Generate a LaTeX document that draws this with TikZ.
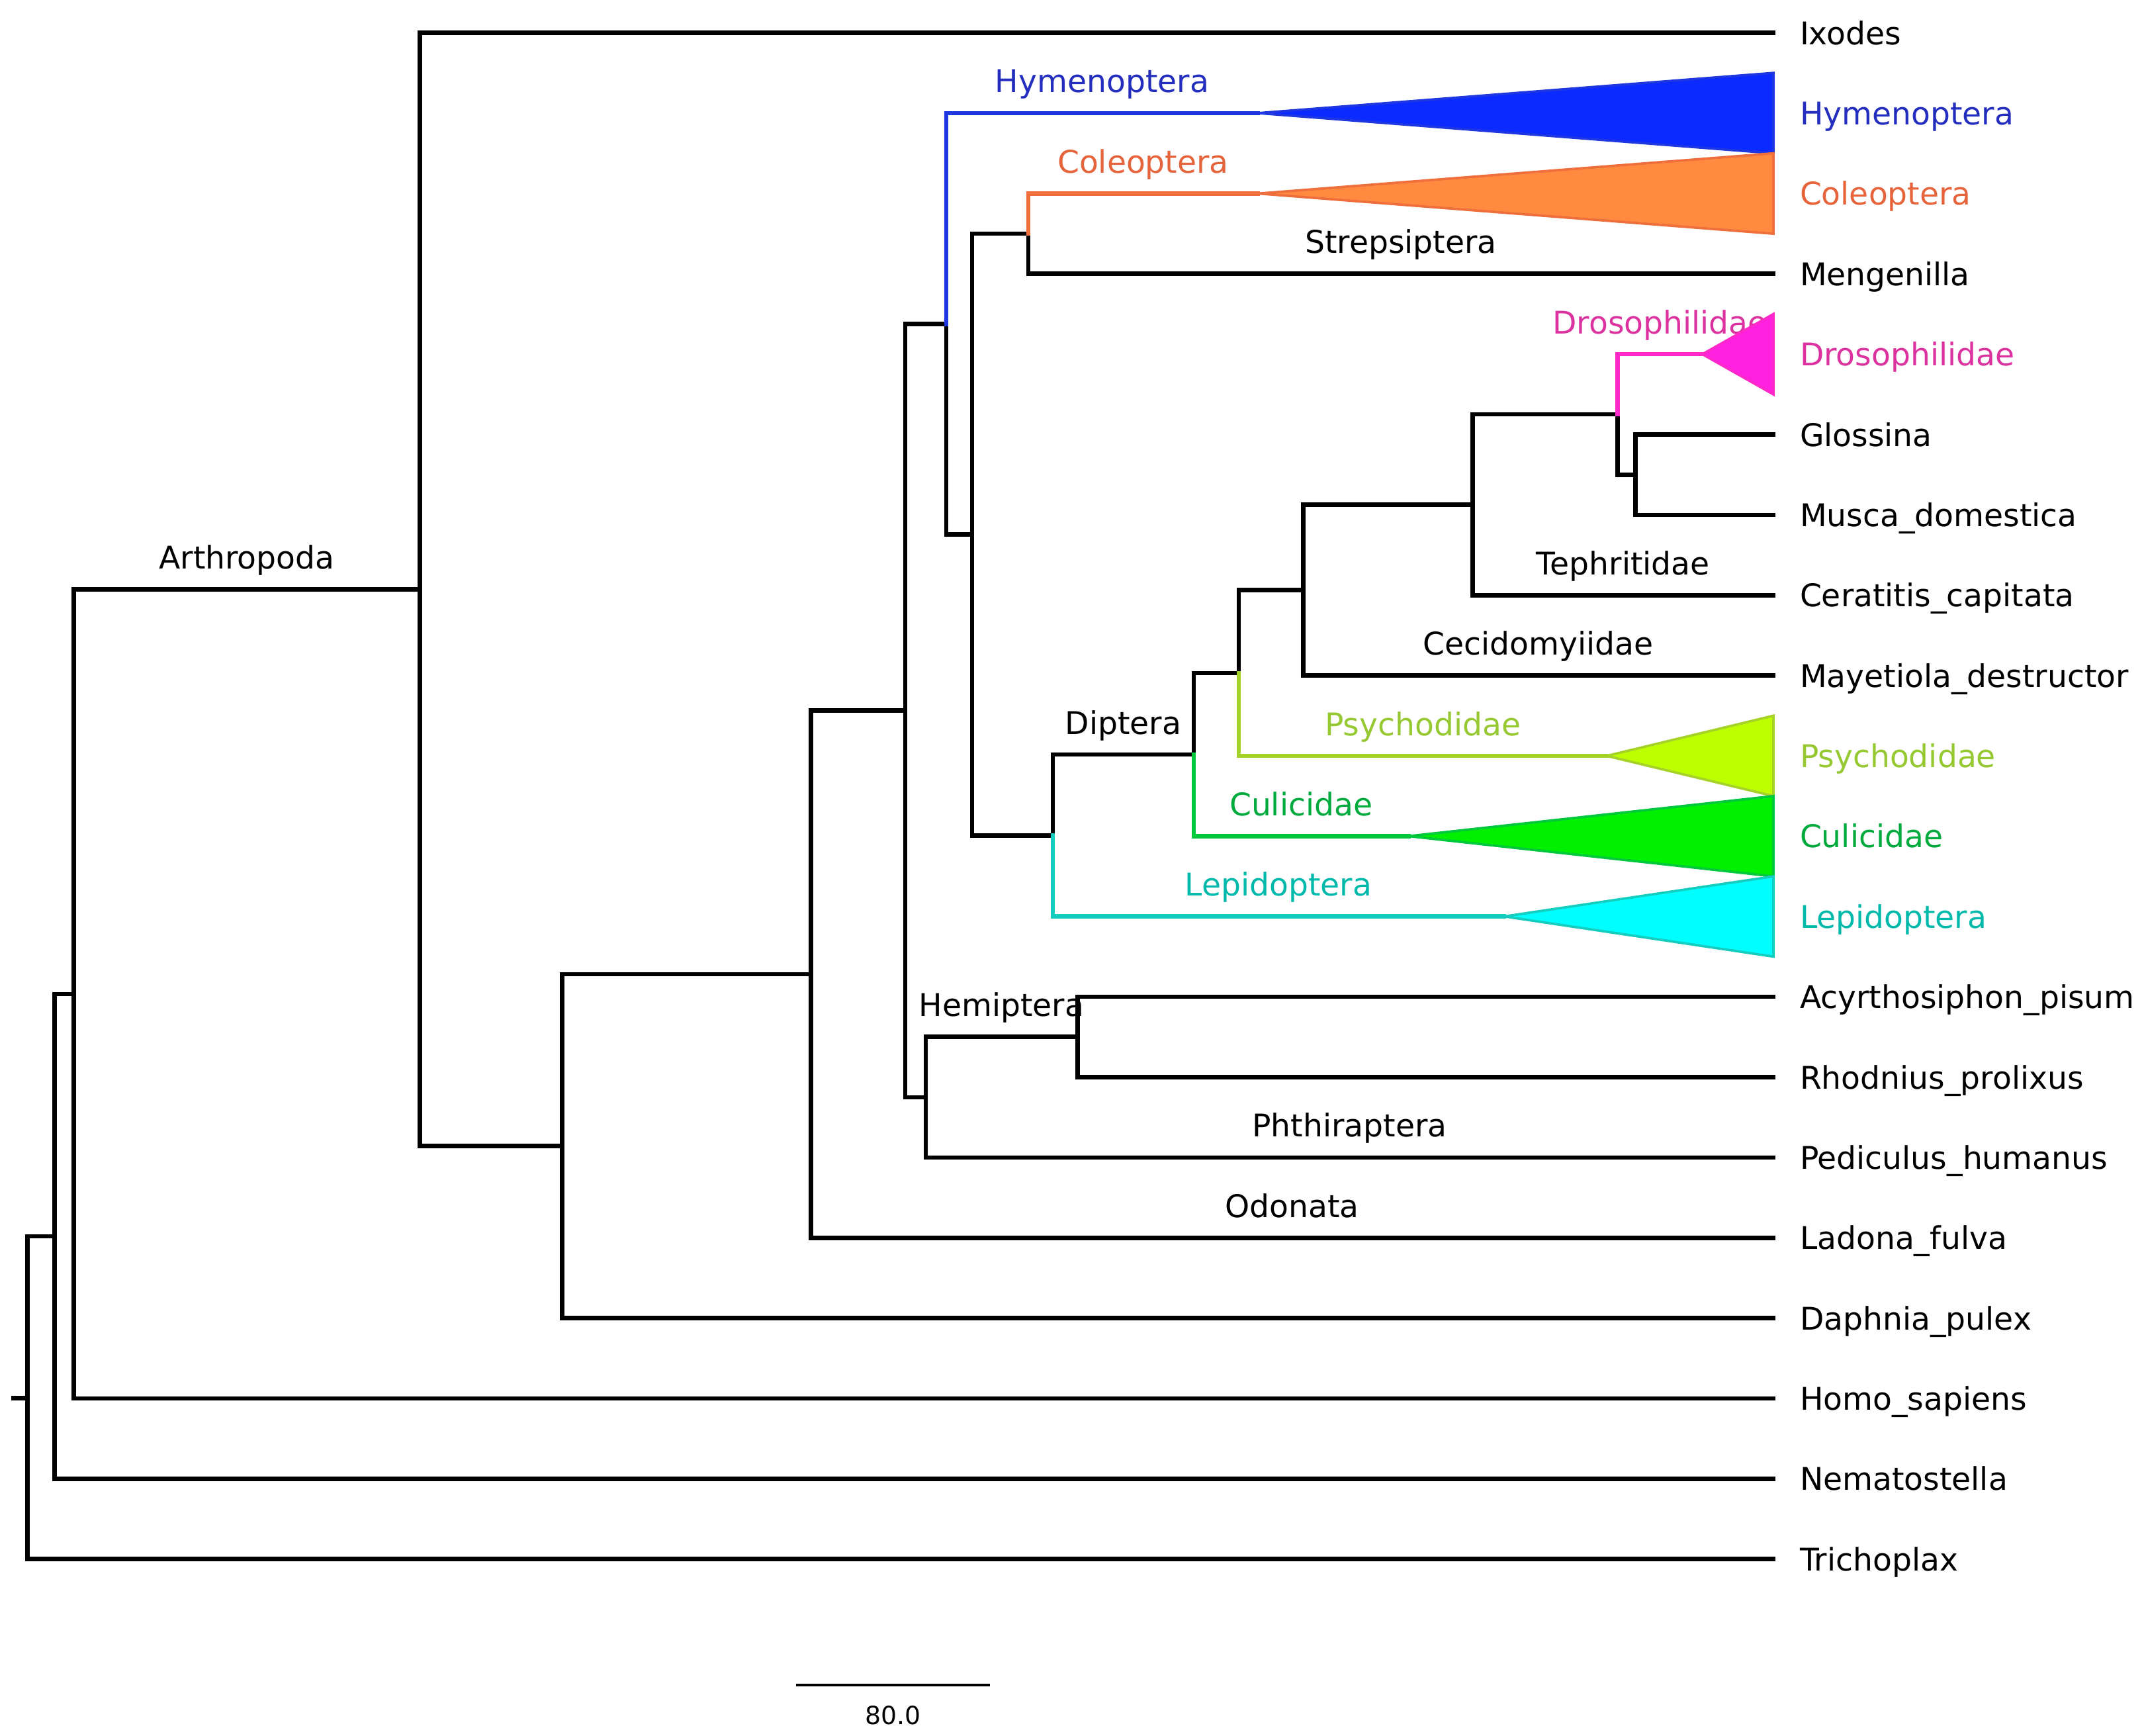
\documentclass[tikz,border=0pt]{standalone}
\usepackage{fontspec}
\setmainfont{DejaVu Sans}

\definecolor{hymline}{RGB}{30,55,225}
\definecolor{hymfill}{RGB}{10,42,255}
\definecolor{hymtext}{RGB}{35,45,190}
\definecolor{colline}{RGB}{238,110,60}
\definecolor{colfill}{RGB}{255,138,64}
\definecolor{coltext}{RGB}{230,100,60}
\definecolor{droline}{RGB}{255,40,200}
\definecolor{drofill}{RGB}{255,32,224}
\definecolor{drotext}{RGB}{220,50,160}
\definecolor{psyline}{RGB}{165,210,40}
\definecolor{psyfill}{RGB}{190,255,0}
\definecolor{psytext}{RGB}{150,200,50}
\definecolor{culline}{RGB}{0,200,60}
\definecolor{culfill}{RGB}{0,240,0}
\definecolor{cultext}{RGB}{0,170,60}
\definecolor{lepline}{RGB}{20,205,190}
\definecolor{lepfill}{RGB}{0,255,255}
\definecolor{leptext}{RGB}{0,185,170}

\tikzset{
  br/.style={line width=1.8pt, line cap=rect},
  tri/.style={line width=1pt, line join=miter},
  leaf/.style={anchor=base west, inner sep=0pt, xshift=0.38cm, yshift=-0.17cm},
  inlbl/.style={anchor=base, inner sep=0pt, yshift=0.3cm},
}

\begin{document}
\begin{tikzpicture}[x=0.02cm, y=-0.02cm, font=\fontsize{13}{15}\selectfont]
\useasboundingbox (0,0) rectangle (1568,1269);

% inner nodes
\coordinate (stub) at (10,1022.3);
\coordinate (root) at (20,1022.3);
\coordinate (n1) at (40,904.0);
\coordinate (n2) at (54,726.8);
\coordinate (arth) at (307,431.0);
\coordinate (n4) at (411,838.0);
\coordinate (n5) at (593,712.3);
\coordinate (n6) at (662,519.6);
\coordinate (n7) at (692,236.8);
\coordinate (n8) at (711,390.9);
\coordinate (n9) at (752,170.8);
\coordinate (dip) at (770,610.9);
\coordinate (n11) at (873,551.7);
\coordinate (n12) at (906,492.1);
\coordinate (n13) at (953,431.5);
\coordinate (n14) at (1077,369.1);
\coordinate (n15) at (1183,303.0);
\coordinate (n16) at (1196,347.1);
\coordinate (n18) at (677,802.3);
\coordinate (hem) at (788,758.2);

% collapsed clades
\coordinate (hymtip) at (920,82.7);
\coordinate (coltip) at (920,141.5);
\coordinate (drotip) at (1245,259.0);
\coordinate (psytip) at (1175,552.7);
\coordinate (cultip) at (1030,611.4);
\coordinate (leptip) at (1100,670.1);

% leaves
\coordinate (ixo) at (1297,24.0);
\coordinate (hym) at (1297,82.7);
\coordinate (col) at (1297,141.5);
\coordinate (men) at (1297,200.2);
\coordinate (dro) at (1297,259.0);
\coordinate (glo) at (1297,317.7);
\coordinate (mus) at (1297,376.4);
\coordinate (cer) at (1297,435.2);
\coordinate (may) at (1297,493.9);
\coordinate (psy) at (1297,552.7);
\coordinate (cul) at (1297,611.4);
\coordinate (lep) at (1297,670.1);
\coordinate (acy) at (1297,728.9);
\coordinate (rho) at (1297,787.6);
\coordinate (ped) at (1297,846.4);
\coordinate (lad) at (1297,905.1);
\coordinate (dap) at (1297,963.8);
\coordinate (hom) at (1297,1022.6);
\coordinate (nem) at (1297,1081.3);
\coordinate (trp) at (1297,1140.0);

% branches
\draw[br] (stub) -- (root);
\draw[br] (root) |- (n1);
\draw[br] (root) |- (trp);
\draw[br] (n1) |- (n2);
\draw[br] (n1) |- (nem);
\draw[br] (n2) |- (arth) node[pos=.75, inlbl] (arthlbl) {Arthropoda};
\draw[br] (n2) |- (hom);
\draw[br] (arth) |- (ixo);
\draw[br] (arth) |- (n4);
\draw[br] (n4) |- (n5);
\draw[br] (n4) |- (dap);
\draw[br] (n5) |- (n6);
\draw[br] (n5) |- (lad) node[pos=.75, inlbl] (odolbl) {Odonata};
\draw[br] (n6) |- (n7);
\draw[br] (n6) |- (n18);
\draw[br] (n18) |- (hem) node[pos=.75, inlbl] (hemlbl) {Hemiptera};
\draw[br] (n18) |- (ped) node[pos=.75, inlbl] (phtlbl) {Phthiraptera};
\draw[br] (hem) |- (acy);
\draw[br] (hem) |- (rho);
\draw[br] (n7) |- (n8);
\draw[br] (n8) |- (n9);
\draw[br] (n8) |- (dip);
\draw[br] (n9) |- (men) node[pos=.75, inlbl] (strlbl) {Strepsiptera};
\draw[br] (dip) |- (n11) node[pos=.75, inlbl] (diplbl) {Diptera};
\draw[br] (n11) |- (n12);
\draw[br] (n12) |- (n13);
\draw[br] (n13) |- (n14);
\draw[br] (n13) |- (may) node[pos=.75, inlbl] (ceclbl) {Cecidomyiidae};
\draw[br] (n14) |- (n15);
\draw[br] (n14) |- (cer) node[pos=.75, inlbl] (teplbl) {Tephritidae};
\draw[br] (n15) |- (n16);
\draw[br] (n16) |- (glo);
\draw[br] (n16) |- (mus);

% coloured branches
\draw[br, hymline] (n7) |- (hymtip) node[pos=.75, inlbl, text=hymtext] (hymlbl) {Hymenoptera};
\draw[br, colline] (n9) |- (coltip) node[pos=.75, inlbl, text=coltext] (collbl) {Coleoptera};
\draw[br, droline] (n15) |- (drotip) node[pos=.75, inlbl, text=drotext] (drolbl) {Drosophilidae};
\draw[br, psyline] (n12) |- (psytip) node[pos=.75, inlbl, text=psytext] (psylbl) {Psychodidae};
\draw[br, culline] (n11) |- (cultip) node[pos=.75, inlbl, text=cultext] (cullbl) {Culicidae};
\draw[br, lepline] (dip) |- (leptip) node[pos=.75, inlbl, text=leptext] (leplbl) {Lepidoptera};

% triangles
\filldraw[tri, fill=hymfill, draw=hymline] (hymtip) -- (1297,53.3) -- (1297,112.1) -- cycle;
\filldraw[tri, fill=colfill, draw=colline] (coltip) -- (1297,112.1) -- (1297,170.9) -- cycle;
\filldraw[tri, fill=drofill, draw=droline] (drotip) -- (1297,229.6) -- (1297,288.4) -- cycle;
\filldraw[tri, fill=psyfill, draw=psyline] (psytip) -- (1297,523.3) -- (1297,582.1) -- cycle;
\filldraw[tri, fill=culfill, draw=culline] (cultip) -- (1297,582.1) -- (1297,640.8) -- cycle;
\filldraw[tri, fill=lepfill, draw=lepline] (leptip) -- (1297,640.8) -- (1297,699.5) -- cycle;

% leaf labels
\node[leaf] (lixo) at (ixo) {Ixodes};
\node[leaf, text=hymtext] (lhym) at (hym) {Hymenoptera};
\node[leaf, text=coltext] (lcol) at (col) {Coleoptera};
\node[leaf] (lmen) at (men) {Mengenilla};
\node[leaf, text=drotext] (ldro) at (dro) {Drosophilidae};
\node[leaf] (lglo) at (glo) {Glossina};
\node[leaf] (lmus) at (mus) {Musca\_domestica};
\node[leaf] (lcer) at (cer) {Ceratitis\_capitata};
\node[leaf] (lmay) at (may) {Mayetiola\_destructor};
\node[leaf, text=psytext] (lpsy) at (psy) {Psychodidae};
\node[leaf, text=cultext] (lcul) at (cul) {Culicidae};
\node[leaf, text=leptext] (llep) at (lep) {Lepidoptera};
\node[leaf] (lacy) at (acy) {Acyrthosiphon\_pisum};
\node[leaf] (lrho) at (rho) {Rhodnius\_prolixus};
\node[leaf] (lped) at (ped) {Pediculus\_humanus};
\node[leaf] (llad) at (lad) {Ladona\_fulva};
\node[leaf] (ldap) at (dap) {Daphnia\_pulex};
\node[leaf] (lhom) at (hom) {Homo\_sapiens};
\node[leaf] (lnem) at (nem) {Nematostella};
\node[leaf] (ltrp) at (trp) {Trichoplax};

% scale bar
\coordinate (sbl) at (582,1232);
\coordinate (sbr) at (724,1232);
\draw[line width=1.1pt] (sbl) -- (sbr) node[midway, anchor=base, inner sep=0pt, yshift=-0.58cm, font=\fontsize{10.4}{12}\selectfont] (sblbl) {80.0};

\end{tikzpicture}
\end{document}
